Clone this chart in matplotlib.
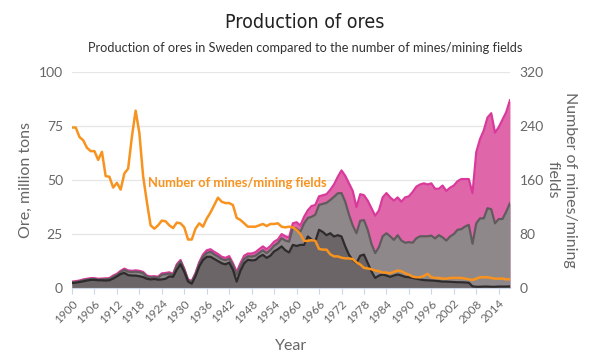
import numpy as np
import matplotlib.pyplot as plt
import matplotlib.ticker as mticker

years = list(range(1900, 2018))

# total ore production (top of pink area), million tons
total_ore = [
    3.0, 3.2, 3.5, 4.0, 4.3, 4.6, 4.6, 4.3, 4.4, 4.5,
    4.6, 5.8, 6.6, 8.0, 9.0, 8.2, 8.0, 8.2, 8.0, 7.5,
    5.8, 5.4, 5.5, 5.3, 6.8, 7.0, 7.3, 6.6, 11.0, 13.0,
    9.0, 4.0, 3.3, 7.0, 12.0, 15.5, 17.5, 18.0, 16.8, 15.8,
    14.5, 14.0, 14.8, 11.5, 7.5, 11.5, 15.0, 16.0, 16.0, 16.6,
    18.0, 19.3, 18.0, 19.5, 21.5, 22.5, 25.0, 24.0, 23.5, 30.0,
    30.5, 29.0, 33.0, 36.0, 38.0, 38.5, 42.5, 43.0, 43.5, 45.5,
    48.0, 51.5, 54.5, 52.0, 48.5, 45.0, 37.5, 43.5, 43.0, 40.5,
    37.0, 33.5, 36.0, 42.0, 44.0, 42.0, 40.5, 42.0, 40.0, 42.0,
    42.5, 44.5, 47.0, 48.0, 48.5, 48.0, 48.5, 46.0, 46.0, 47.5,
    45.0, 46.5, 47.5, 49.5, 50.5, 50.5, 50.5, 44.0, 63.0, 69.0,
    73.0, 79.0, 81.0, 72.0, 74.5, 78.0, 81.5, 87.0,
]

# middle layer (top of grey area)
iron_ore = [
    2.6, 2.8, 3.1, 3.6, 3.9, 4.2, 4.2, 3.9, 4.0, 4.1,
    4.2, 5.2, 6.0, 7.4, 8.4, 7.6, 7.4, 7.6, 7.4, 6.9,
    5.3, 4.9, 5.0, 4.8, 6.2, 6.4, 6.7, 6.0, 10.3, 12.3,
    8.4, 3.6, 2.9, 6.3, 11.2, 14.5, 16.3, 16.8, 15.6, 14.6,
    13.4, 12.9, 13.6, 10.5, 6.2, 10.2, 13.5, 14.7, 14.6, 15.0,
    16.3, 17.5, 16.2, 17.6, 19.6, 20.8, 23.1, 22.0, 21.5, 28.0,
    27.5, 26.0, 30.0, 32.5, 33.0, 34.0, 38.5, 39.0, 39.5, 40.8,
    42.3, 43.9, 44.0, 40.0, 34.0, 29.0, 25.4, 31.2, 31.5, 27.0,
    20.5, 16.2, 19.0, 24.0, 25.4, 24.0, 22.3, 24.5, 22.0, 21.0,
    21.3, 21.0, 23.1, 24.0, 24.0, 24.0, 24.3, 23.0, 24.5, 23.5,
    22.0, 23.9, 25.0, 27.0, 27.3, 28.5, 29.3, 20.5, 30.0, 32.3,
    32.3, 37.0, 36.5, 30.0, 32.0, 32.0, 35.4, 39.3,
]

# bottom layer (top of dark area)
other_ore = [
    2.3, 2.5, 2.8, 3.1, 3.5, 3.8, 3.8, 3.6, 3.6, 3.5,
    3.6, 4.4, 5.4, 6.5, 7.0, 6.0, 5.8, 5.8, 5.5, 5.1,
    4.3, 4.0, 4.2, 3.9, 4.0, 4.3, 5.4, 5.2, 8.5, 11.0,
    7.5, 3.0, 2.0, 5.5, 10.0, 13.0, 14.5, 14.5, 13.5, 12.5,
    11.5, 11.0, 11.8, 8.5, 3.0, 8.0, 11.5, 13.1, 12.8, 13.0,
    14.5, 15.4, 14.0, 15.0, 17.0, 18.0, 19.3, 17.5, 16.5, 20.0,
    19.5, 20.0, 20.0, 23.9, 22.5, 21.6, 27.0, 26.0, 24.5, 25.4,
    23.9, 24.5, 23.9, 19.3, 15.4, 13.0, 11.6, 15.0, 15.5, 11.6,
    7.7, 4.7, 5.8, 6.3, 5.8, 5.2, 5.8, 6.3, 5.8, 5.2,
    5.0, 4.7, 4.3, 4.0, 3.7, 3.6, 3.5, 3.4, 3.2, 3.0,
    3.0, 2.9, 2.8, 2.7, 2.7, 2.6, 2.5, 0.8, 0.6, 0.6,
    0.7, 0.7, 0.6, 0.6, 0.7, 0.7, 0.7, 0.8,
]

# number of mines / mining fields (right axis)
mines = [
    238, 238, 224, 219, 208, 203, 203, 190, 202, 166,
    165, 149, 156, 146, 170, 177, 224, 263, 230, 166,
    128, 93, 88, 93, 100, 99, 93, 89, 97, 96,
    90, 72, 72, 88, 96, 91, 103, 112, 123, 134,
    128, 126, 126, 123, 104, 101, 96, 91, 91, 91,
    93, 95, 92, 95, 95, 96, 91, 90, 91, 90,
    86, 80, 70, 70, 71, 70, 58, 57, 57, 50,
    47, 47, 45, 44, 44, 43, 38, 35, 30, 29,
    28, 26, 25, 23, 23, 22, 24, 26, 25, 22,
    20, 17, 16, 16, 18, 21, 16, 15, 15, 14,
    14, 15, 15, 15, 15, 14, 13, 12, 14, 16,
    16, 16, 15, 14, 14, 14, 13, 13,
]

x_ticks = list(range(1900, 2018, 6))

plt.rcParams['font.family'] = ['Lato', 'DejaVu Sans']

fig = plt.figure(figsize=(6.1, 3.61), dpi=100)
ax = fig.add_axes([0.118, 0.202, 0.718, 0.598])
ax2 = ax.twinx()

# areas, drawn tallest first so they overlap like the original
ax.fill_between(years, total_ore, color='#e066aa', lw=0, zorder=1)
ax.plot(years, total_ore, color='#d9399b', lw=1.6, zorder=2)
ax.fill_between(years, iron_ore, color='#8f888b', lw=0, zorder=3)
ax.plot(years, iron_ore, color='#615b5e', lw=1.6, zorder=4)
ax.fill_between(years, other_ore, color='#6b6568', lw=0, zorder=5)
ax.plot(years, other_ore, color='#2e2b2d', lw=1.6, zorder=6)

ax2.plot(years, mines, color='#f7931e', lw=1.8, zorder=7,
         solid_joinstyle='round')

ax.set_xlim(1900, 2017)
ax.set_ylim(0, 100)
ax2.set_ylim(0, 320)
ax.yaxis.set_major_locator(mticker.MultipleLocator(25))
ax2.yaxis.set_major_locator(mticker.MultipleLocator(80))
ax.set_xticks(x_ticks)
ax.set_xticklabels([str(y) for y in x_ticks], rotation=45, ha='right',
                   rotation_mode='anchor', fontsize=8.5, color='#666666')

ax.grid(axis='y', color='#e6e6e6', lw=0.9, zorder=0)
ax.set_axisbelow(True)
for a in (ax, ax2):
    for s in a.spines.values():
        s.set_visible(False)
ax.spines['bottom'].set_visible(True)
ax.spines['bottom'].set_color('#ccd6eb')
ax.spines['bottom'].set_zorder(8)

ax.tick_params(axis='x', length=4, color='#ccd6eb', pad=3)
ax.tick_params(axis='y', length=0, labelsize=10, labelcolor='#666666', pad=6.5)
ax2.tick_params(axis='y', length=0, labelsize=10, labelcolor='#666666', pad=7)

ax.set_ylabel('Ore, million tons', fontsize=11.5, color='#666666', labelpad=4)
ax2.set_ylabel('Number of mines/mining\nfields', fontsize=11.5, color='#666666',
               rotation=270, labelpad=24, linespacing=1.35)
ax.set_xlabel('Year', fontsize=11.5, color='#666666', labelpad=10)

ax.text(1920.2, 48.6, 'Number of mines/mining fields', color='#f7931e',
        fontsize=9.3, fontweight='bold', va='center', ha='left', zorder=9)

fig.text(0.5, 0.937, 'Production of ores', ha='center', va='center',
         fontsize=14, color='#222222',
         family=['DejaVu Sans'], fontstretch='condensed')
fig.text(0.5, 0.866, 'Production of ores in Sweden compared to the number of mines/mining fields',
         ha='center', va='center', fontsize=9.2, color='#333333')

fig.savefig('out.png', dpi=100)
